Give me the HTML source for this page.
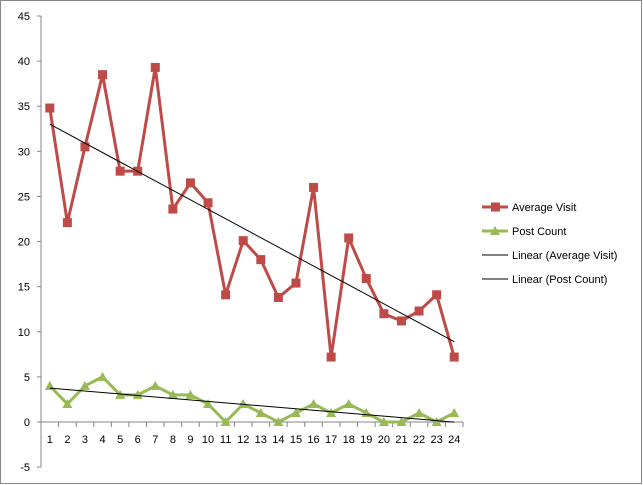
<!DOCTYPE html>
<html><head><meta charset="utf-8"><style>
body{margin:0;background:#fff}
svg{display:block;font-family:"Liberation Sans",sans-serif;font-size:11px}
</style></head><body>
<svg id="c" width="643" height="485" xmlns="http://www.w3.org/2000/svg">
<rect x="0.5" y="0.5" width="641" height="483" fill="#fff" stroke="#888"/>
</svg>
<script>
const categories=[1,2,3,4,5,6,7,8,9,10,11,12,13,14,15,16,17,18,19,20,21,22,23,24];
const avgVisit=[34.8,22.1,30.5,38.5,27.8,27.8,39.3,23.6,26.5,24.3,14.1,20.1,18,13.8,15.4,26,7.2,20.4,15.9,12,11.2,12.3,14.1,7.2];
const postCount=[4,2,4,5,3,3,4,3,3,2,0,2,1,0,1,2,1,2,1,0,0,1,0,1];
const yTicks=[-5,0,5,10,15,20,25,30,35,40,45];
const NS='http://www.w3.org/2000/svg';
const svg=document.getElementById('c');
const L=41,R=463,y0=422,pu=(422-16)/45;
const step=(R-L)/categories.length;
const X=i=>L+step*(i+0.5);
const Y=v=>y0-v*pu;
function el(t,a,p){const e=document.createElementNS(NS,t);for(const k in a)e.setAttribute(k,a[k]);(p||svg).appendChild(e);return e;}
// axes
const ya=el('line',{x1:L,y1:Y(45),x2:L,y2:Y(-5),stroke:'#868686'});


yTicks.forEach(t=>{
 el('line',{x1:L-4,y1:Y(t),x2:L,y2:Y(t),stroke:'#868686'});
 const tx=el('text',{x:L-11,y:Y(t)+4,'text-anchor':'end',fill:'#000'});tx.textContent=t;
 
 
});
const xa=el('line',{x1:L,y1:y0,x2:R,y2:y0,stroke:'#868686'});


for(let k=0;k<=categories.length;k++)el('line',{x1:L+k*step,y1:y0,x2:L+k*step,y2:y0+5,stroke:'#868686'});
categories.forEach((c,i)=>{const tx=el('text',{x:X(i),y:y0+21,'text-anchor':'middle'});tx.textContent=c;
 
 });
function trend(arr,name){
 const n=arr.length;let sx=0,sy=0,sxx=0,sxy=0;
 arr.forEach((v,i)=>{sx+=i;sy+=v;sxx+=i*i;sxy+=i*v;});
 const b=(n*sxy-sx*sy)/(n*sxx-sx*sx),a=(sy-b*sx)/n;
 const l=el('line',{x1:X(0),y1:Y(a),x2:X(n-1),y2:Y(a+b*(n-1)),stroke:'#000','stroke-width':1});
 
 
}
function series(arr,color,marker,name){
 const g=el('g',{});
 
 
 el('polyline',{points:arr.map((v,i)=>X(i)+','+Y(v)).join(' '),fill:'none',stroke:color,'stroke-width':3,'stroke-linejoin':'round'},g);
 arr.forEach((v,i)=>{
  let m;
  if(marker==='sq')m=el('rect',{x:X(i)-4.5,y:Y(v)-4.5,width:9,height:9,fill:color},g);
  else m=el('polygon',{points:`${X(i)},${Y(v)-5} ${X(i)-5},${Y(v)+4} ${X(i)+5},${Y(v)+4}`,fill:color},g);
  
  
 });
}
series(avgVisit,'#be4b48','sq','series-average-visit');
series(postCount,'#98b954','tri','series-post-count');
trend(avgVisit,'trend-average-visit');
trend(postCount,'trend-post-count');
// legend
const lg=el('g',{});


const items=[['Average Visit','#be4b48','sq'],['Post Count','#98b954','tri'],['Linear (Average Visit)','#000','ln'],['Linear (Post Count)','#000','ln']];
items.forEach((it,k)=>{
 const y=207+k*24;
 el('line',{x1:482,y1:y,x2:508,y2:y,stroke:it[1],'stroke-width':it[2]==='ln'?1:3},lg);
 if(it[2]==='sq')el('rect',{x:491,y:y-4.5,width:9,height:9,fill:it[1]},lg);
 if(it[2]==='tri')el('polygon',{points:`495,${y-5} 490,${y+4} 500,${y+4}`,fill:it[1]},lg);
 const t=el('text',{x:512,y:y+4},lg);t.textContent=it[0];
 
 
});
</script>
</body></html>
